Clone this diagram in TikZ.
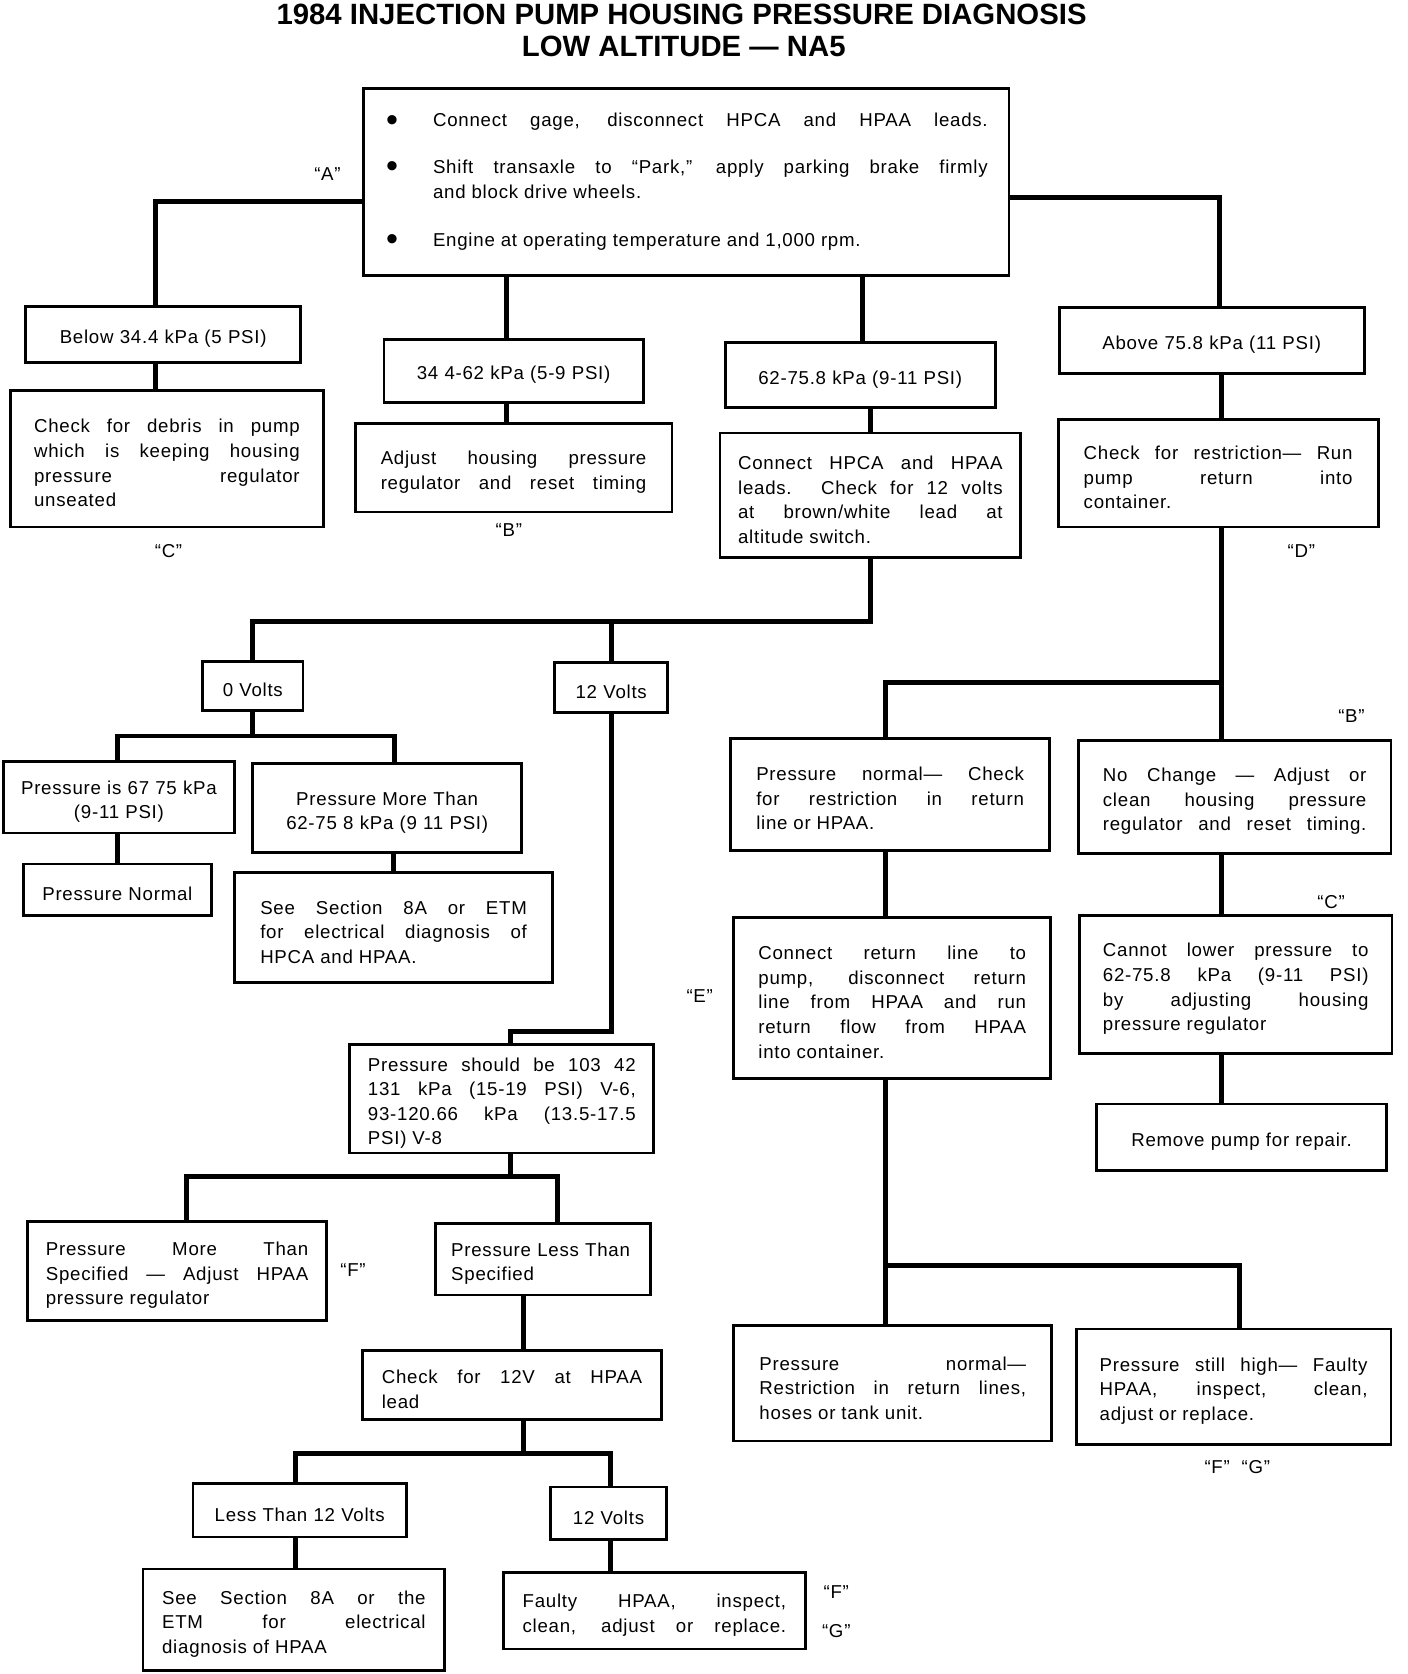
\documentclass[tikz,border=0pt]{standalone}
\usepackage{fontspec}
\setmainfont{Liberation Sans}[LetterSpace=4]
\newfontfamily\titlefont{Liberation Sans}
\usepackage{graphicx}
\setlength{\parindent}{0pt}
\newcommand\bodyfont{\fontsize{17.5pt}{23pt}\selectfont}
\newcommand\bul{\raisebox{-4pt}{\fontsize{32pt}{32pt}\selectfont\textbullet}}
\newcommand\mitem[1]{\hangindent=45pt\hangafter=1\noindent\makebox[45pt][l]{\hspace{1pt}\bul}#1}
\newcommand\lastfull{{\parfillskip=0pt\par}}
% [opts]{name}{x1}{y1}{x2}{y2}{pad}{text}
\newcommand\mybox[8][]{%
  \pgfmathsetmacro\bxw{#5-#3}%
  \pgfmathsetmacro\bxh{#6-#4}%
  \pgfmathsetmacro\bxt{#5-#3-2*#7}%
  \pgfmathsetmacro\bxcx{(#3+#5)/2}%
  \pgfmathsetmacro\bxcy{(#4+#6)/2}%
  \node[box, minimum width=\bxw pt, minimum height=\bxh pt, text width=\bxt pt, inner xsep=#7pt, #1] (#2) at (\bxcx,\bxcy) {\rule{0pt}{21pt}#8};%
}
\begin{document}
\begin{tikzpicture}[x=1pt,y=-1pt,
  box/.style={draw, line width=2.6pt, inner ysep=0pt, font=\bodyfont},
  conn/.style={line width=4.6pt},
  lab/.style={font=\bodyfont, inner sep=0pt},
  ttl/.style={anchor=base, inner sep=0pt, font=\titlefont\bfseries\fontsize{27.5pt}{30pt}\selectfont}]
\useasboundingbox (0,0) rectangle (1320,1569.4);

\node[ttl] (t1) at (639,23) {1984 INJECTION PUMP HOUSING PRESSURE DIAGNOSIS};
\node[ttl] (t2) at (641,53) {LOW ALTITUDE — NA5};

\node[box, text width=565pt, inner xsep=20pt, minimum height=175pt, align=justify] (main) at (643.5,170.5) {%
\mitem{Connect gage, disconnect HPCA and HPAA leads.\lastfull}\vspace{21pt}
\mitem{Shift transaxle to ``Park,'' apply parking brake firmly\linebreak and block drive wheels.\par}\vspace{22pt}
\mitem{Engine at operating temperature and 1,000 rpm.}};

\mybox[align=center]{b1}{24}{287}{282}{340}{10}{Below 34.4 kPa (5 PSI)}
\mybox[align=justify]{b2}{10}{366}{303}{494}{22}{Check for debris in pump\linebreak which is keeping housing\linebreak pressure regulator\linebreak unseated}
\mybox[align=center]{b3}{360}{318}{603}{377}{10}{34 4-62 kPa (5-9 PSI)}
\mybox[align=justify]{b4}{333}{397}{630}{480}{24}{Adjust housing pressure\linebreak regulator and reset timing\lastfull}
\mybox[align=center]{b5}{680}{321}{933}{382}{10}{62-75.8 kPa (9-11 PSI)}
\mybox[align=justify]{b6}{675}{406}{957}{523}{17}{Connect HPCA and HPAA\linebreak leads. Check for 12 volts\linebreak at brown/white lead at\linebreak altitude switch.}
\mybox[align=center]{v0}{190}{620}{284}{666}{6}{0 Volts}
\mybox[align=center]{v12}{520}{621}{626}{668}{6}{12 Volts}
\mybox[align=center]{p67}{3}{714}{220}{781}{8}{Pressure is 67 75 kPa\\(9-11 PSI)}
\mybox[align=center]{pnorm}{22}{810}{198}{858}{8}{Pressure Normal}
\mybox[align=center]{pmore}{237}{716}{489}{799}{10}{Pressure More Than\\62-75 8 kPa (9 11 PSI)}
\mybox[align=justify]{see1}{220}{818}{518}{921}{24}{See Section 8A or ETM\linebreak for electrical diagnosis of\linebreak HPCA and HPAA.}
\mybox[align=justify]{b13}{328}{979}{613}{1081}{17}{Pressure should be 103 42\linebreak 131 kPa (15-19 PSI) V-6,\linebreak 93-120.66 kPa (13.5-17.5\linebreak PSI) V-8}
\mybox[align=justify]{pmt}{26}{1145}{306}{1238}{17}{Pressure More Than\linebreak Specified — Adjust HPAA\linebreak pressure regulator}
\mybox[align=left]{plt}{408}{1147}{610}{1214}{15}{Pressure Less Than\\Specified}
\mybox[align=justify]{chk}{340}{1266}{620}{1331}{18}{Check for 12V at HPAA\linebreak lead}
\mybox[align=center]{lt12}{181}{1391}{381}{1441}{8}{Less Than 12 Volts}
\mybox[align=center]{v12b}{516}{1394}{625}{1443}{6}{12 Volts}
\mybox[align=justify]{see2}{134}{1471}{417}{1566}{18}{See Section 8A or the\linebreak ETM for electrical\linebreak diagnosis of HPAA}
\mybox[align=justify]{faulty}{472}{1474}{755}{1546}{18}{Faulty HPAA, inspect,\linebreak clean, adjust or replace.\lastfull}
\mybox[align=center]{above}{993}{288}{1279}{350}{10}{Above 75.8 kPa (11 PSI)}
\mybox[align=justify]{chkr}{992}{393}{1292}{494}{24}{Check for restriction— Run\linebreak pump return into\linebreak container.}
\mybox[align=justify]{pn1}{685}{692}{984}{797}{24}{Pressure normal— Check\linebreak for restriction in return\linebreak line or HPAA.}
\mybox[align=justify]{nochg}{1011}{694}{1304}{800}{23}{No Change — Adjust or\linebreak clean housing pressure\linebreak regulator and reset timing.\lastfull}
\mybox[align=justify]{cannot}{1012}{858}{1305}{988}{22}{Cannot lower pressure to\linebreak 62-75.8 kPa (9-11 PSI)\linebreak by adjusting housing\linebreak pressure regulator}
\mybox[align=center]{remove}{1028}{1035}{1300}{1097}{10}{Remove pump for repair.}
\mybox[align=justify]{crl}{688}{860}{985}{1011}{23}{Connect return line to\linebreak pump, disconnect return\linebreak line from HPAA and run\linebreak return flow from HPAA\linebreak into container.}
\mybox[align=justify]{pn2}{688}{1243}{986}{1351}{24}{Pressure normal—\linebreak Restriction in return lines,\linebreak hoses or tank unit.}
\mybox[align=justify]{psh}{1009}{1246}{1304}{1354}{22}{Pressure still high— Faulty\linebreak HPAA, inspect, clean,\linebreak adjust or replace.}

% labels
\node[lab] (lA) at (307,163) {``A''};
\node[lab] (lC1) at (158,517) {``C''};
\node[lab] (lB1) at (477,497) {``B''};
\node[lab] (lD) at (1220,517) {``D''};
\node[lab] (lB2) at (1267,671) {``B''};
\node[lab] (lC2) at (1248,846) {``C''};
\node[lab] (lE) at (656,934) {``E''};
\node[lab] (lF1) at (331,1191) {``F''};
\node[lab] (lF2) at (784,1493) {``F''};
\node[lab] (lG2) at (784,1529) {``G''};
\node[lab] (lFG) at (1160,1375) {``F''\ \ ``G''};

% connectors - left/center
\draw[conn] ([xshift=-7pt]b1.north) |- ([yshift=-18pt]main.west);
\draw[conn] ([xshift=-7pt]b1.south) -- ([xshift=-7pt]b1.south |- b2.north);
\draw[conn] ([xshift=-7pt]b3.north) -- ([xshift=-7pt]b3.north |- main.south);
\draw[conn] ([xshift=-7pt]b3.south) -- ([xshift=-7pt]b3.south |- b4.north);
\draw[conn] ([xshift=2pt]b5.north) -- ([xshift=2pt]b5.north |- main.south);
\draw[conn] (b6.north) -- (b6.north |- b5.south);
\coordinate (j1) at (816,583);
\draw[conn] (b6.south) -- (j1) -| (v0.north);
\draw[conn] (v12.north) -- (v12.north |- j1);
\coordinate (j2) at (237,690);
\draw[conn] (v0.south) -- (j2);
\draw[conn] ([xshift=-1pt]p67.north) |- (j2) -| ([xshift=7pt]pmore.north);
\draw[conn] (pnorm.north) -- (pnorm.north |- p67.south);
\draw[conn] (see1.north) -- (see1.north |- pmore.south);
\draw[conn] (v12.south) -- ++(0,298) -| ([xshift=8pt]b13.north);
\coordinate (j3) at (478.5,1103);
\draw[conn] ([xshift=8pt]b13.south) -- (j3);
\draw[conn] ([xshift=9pt]pmt.north) |- (j3) -| ([xshift=14pt]plt.north);
\draw[conn] ([xshift=-18pt]plt.south) -- ([xshift=-18pt]plt.south |- chk.north);
\coordinate (j4) at (491,1363);
\draw[conn] ([xshift=11pt]chk.south) -- (j4);
\draw[conn] ([xshift=-4pt]lt12.north) |- (j4) -| ([xshift=2pt]v12b.north);
\draw[conn] ([xshift=-4pt]lt12.south) -- ([xshift=-4pt]lt12.south |- see2.north);
\draw[conn] ([xshift=2pt]v12b.south) -- ([xshift=2pt]v12b.south |- faulty.north);

% connectors - right
\draw[conn] ([xshift=7pt]above.north) |- ([yshift=-15pt]main.east);
\draw[conn] ([xshift=9pt]above.south) -- ([xshift=9pt]above.south |- chkr.north);
\coordinate (j5) at (1145,640);
\draw[conn] ([xshift=3pt]chkr.south) -- ([xshift=-12.5pt]nochg.north);
\draw[conn] (j5) -| ([xshift=-4.5pt]pn1.north);
\draw[conn] ([xshift=-13.5pt]cannot.north) -- ([xshift=-13.5pt]cannot.north |- nochg.south);
\draw[conn] ([xshift=-19pt]remove.north) -- ([xshift=-19pt]remove.north |- cannot.south);
\draw[conn] ([xshift=-6.5pt]crl.north) -- ([xshift=-6.5pt]crl.north |- pn1.south);
\coordinate (j6) at (830,1186);
\draw[conn] ([xshift=-6.5pt]crl.south) -- ([xshift=-7pt]pn2.north);
\draw[conn] (j6) -| ([xshift=5.5pt]psh.north);
\end{tikzpicture}
\end{document}
